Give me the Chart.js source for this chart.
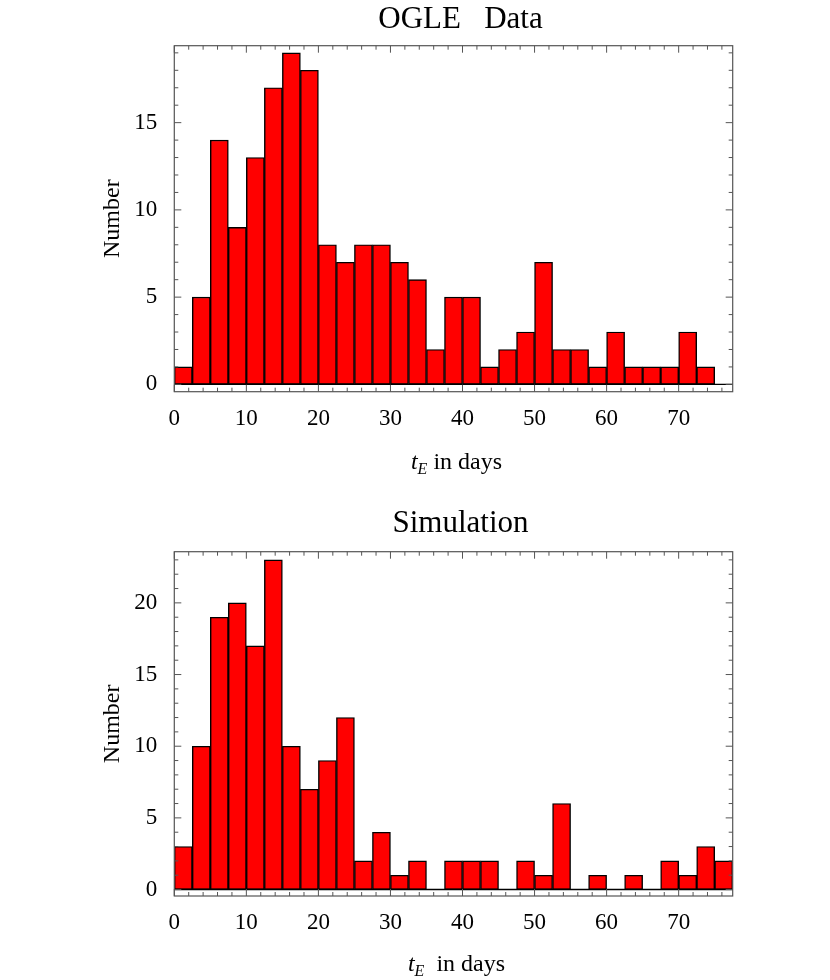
<!DOCTYPE html>
<html>
<head>
<meta charset="utf-8">
<script src="https://cdn.jsdelivr.net/npm/chart.js@4.4.1/dist/chart.umd.min.js"></script>
<style>
  body { margin: 0; background: #fff; }
  .panel { position: absolute; left: 0; width: 830px; height: 490px; }
</style>
</head>
<body>
<div class="panel" style="top:0"><canvas id="ogle" width="830" height="490"></canvas></div>
<div class="panel" style="top:490px"><canvas id="sim" width="830" height="490"></canvas></div>
<script>
// histogram bins, 2.5 days wide
const binWidth = 2.5
const binStart = [0, 2.5, 5, 7.5, 10, 12.5, 15, 17.5, 20, 22.5, 25, 27.5, 30, 32.5, 35, 37.5,
	40, 42.5, 45, 47.5, 50, 52.5, 55, 57.5, 60, 62.5, 65, 67.5, 70, 72.5, 75]
const ogleCounts = [1, 5, 14, 9, 13, 17, 19, 18, 8, 7, 8, 8, 7, 6, 2, 5,
	5, 1, 2, 3, 7, 2, 2, 1, 3, 1, 1, 1, 3, 1, 0]
const simCounts = [3, 10, 19, 20, 17, 23, 10, 7, 9, 12, 2, 4, 1, 2, 0, 2,
	2, 2, 0, 2, 1, 6, 0, 1, 0, 1, 0, 2, 1, 3, 2]
const xTickLabels = [0, 10, 20, 30, 40, 50, 60, 70]
const ogleYTicks = [0, 5, 10, 15]
const simYTicks = [0, 5, 10, 15, 20]

const serif = '"Liberation Serif", "DejaVu Serif", serif'

const framePlugin = {
	id: 'frame',
	afterDatasetsDraw(chart) {
		const { ctx, chartArea: a, scales } = chart
		const o = chart.options.plugins.frame
		const x = scales.x, y = scales.y
		ctx.save()
		// axis line at zero
		const y0 = y.getPixelForValue(0)
		ctx.strokeStyle = '#000'
		ctx.lineWidth = 1.4
		ctx.beginPath()
		ctx.moveTo(a.left, y0)
		ctx.lineTo(a.right, y0)
		ctx.stroke()

		// frame + ticks
		ctx.strokeStyle = '#555'
		ctx.lineWidth = 1.2
		ctx.strokeRect(a.left, a.top, a.right - a.left, a.bottom - a.top)
		ctx.lineWidth = 1
		ctx.beginPath()
		for (let v = 0; v <= x.max; v += 2) {
			const len = xTickLabels.includes(v) ? 7 : 4
			const px = x.getPixelForValue(v)
			ctx.moveTo(px, a.bottom); ctx.lineTo(px, a.bottom - len)
			ctx.moveTo(px, a.top); ctx.lineTo(px, a.top + len)
		}
		for (let v = 0; v <= y.max; v += 1) {
			const len = o.yTicks.includes(v) ? 7 : 4
			const py = y.getPixelForValue(v)
			ctx.moveTo(a.left, py); ctx.lineTo(a.left + len, py)
			ctx.moveTo(a.right, py); ctx.lineTo(a.right - len, py)
		}
		ctx.stroke()

		// titles
		const cx = (a.left + a.right) / 2 + 3
		ctx.fillStyle = '#000'
		ctx.textAlign = 'center'
		ctx.textBaseline = 'alphabetic'
		ctx.font = '31px ' + serif
		ctx.fillText(o.title, cx + 4, o.titleY)

		ctx.save()
		ctx.translate(113, (a.top + a.bottom) / 2)
		ctx.rotate(-Math.PI / 2)
		ctx.font = '24px ' + serif
		ctx.textBaseline = 'middle'
		ctx.fillText('Number', 0, 0)
		ctx.restore()

		// t_E in days
		ctx.textAlign = 'left'
		const big = '24px ' + serif, small = '16px ' + serif
		ctx.font = 'italic ' + big
		const wt = ctx.measureText('t').width
		ctx.font = 'italic ' + small
		const we = ctx.measureText('E').width
		ctx.font = big
		const rest = o.xGap + 'in days'
		const wr = ctx.measureText(rest).width
		let sx = cx - (wt + we + wr) / 2
		ctx.font = 'italic ' + big
		ctx.fillText('t', sx, o.xTitleY)
		sx += wt
		ctx.font = 'italic ' + small
		ctx.fillText('E', sx, o.xTitleY + 5)
		sx += we
		ctx.font = big
		ctx.fillText(rest, sx, o.xTitleY)
		ctx.restore()
	}
}

function histogram(id, counts, yTicks, yMin, yMax, opts) {
	new Chart(document.getElementById(id), {
		type: 'bar',
		data: {
			datasets: [{
				data: counts.map((c, i) => ({ x: binStart[i] + binWidth / 2, y: c })),
				backgroundColor: '#ff0000',
				borderColor: '#000',
				borderWidth: 1.4,
				borderSkipped: false,
				barPercentage: 1,
				categoryPercentage: 1
			}]
		},
		options: {
			responsive: false,
			animation: false,
			layout: { padding: opts.padding },
			plugins: {
				legend: { display: false },
				tooltip: { enabled: false },
				frame: { title: opts.title, titleY: opts.titleY, xTitleY: opts.xTitleY, xGap: opts.xGap, yTicks: yTicks }
			},
			scales: {
				x: {
					type: 'linear',
					min: 0,
					max: 77.5,
					offset: false,
					grid: { display: false },
					border: { display: false },
					ticks: { color: '#000', font: { family: serif, size: 23 }, padding: 5, autoSkip: false, maxRotation: 0 },
					afterBuildTicks: s => { s.ticks = xTickLabels.map(v => ({ value: v })) },
					afterFit: s => { s.height = 60 }
				},
				y: {
					min: yMin,
					max: yMax,
					grid: { display: false },
					border: { display: false },
					ticks: { color: '#000', font: { family: serif, size: 23 }, padding: 9 },
					afterBuildTicks: s => { s.ticks = yTicks.map(v => ({ value: v })) },
					afterFit: s => { s.width = 174.3 }
				}
			}
		},
		plugins: [framePlugin]
	})
}

histogram('ogle', ogleCounts, ogleYTicks, -0.42, 19.41, {
	padding: { top: 45.7, right: 97.3, bottom: 38.3, left: 0 },
	title: 'OGLE   Data', titleY: 28, xTitleY: 469, xGap: ' '
})
histogram('sim', simCounts, simYTicks, -0.45, 23.57, {
	padding: { top: 61.7, right: 97.3, bottom: 24, left: 0 },
	title: 'Simulation', titleY: 42, xTitleY: 481, xGap: '  '
})
</script>
</body>
</html>
